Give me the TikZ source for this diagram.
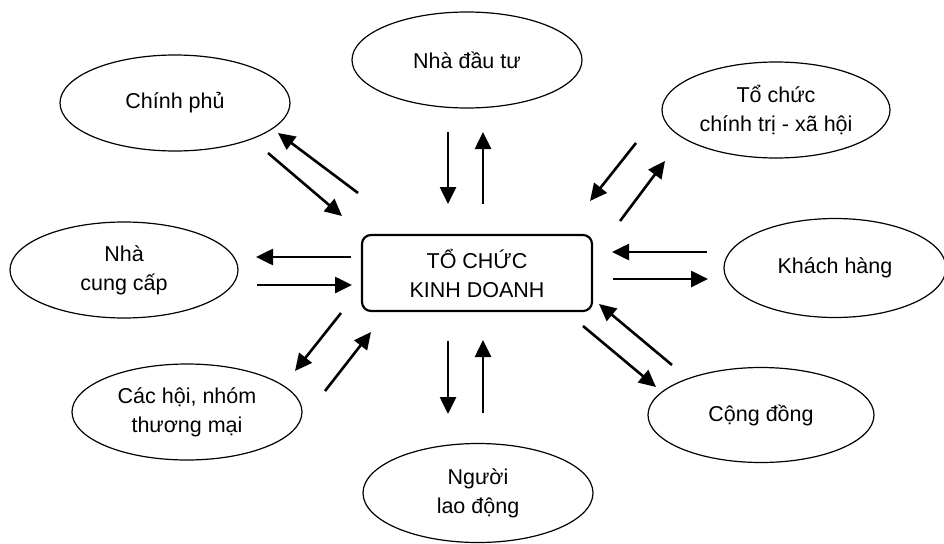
\documentclass[tikz,border=0pt]{standalone}
\usepackage{fontspec}
\setmainfont{Liberation Sans}
\usetikzlibrary{shapes.geometric,arrows.meta}
\begin{document}
\begin{tikzpicture}[x=1pt,y=-1pt,
  ell/.style={draw,line width=1.2pt,ellipse,inner sep=0pt,minimum width=230pt,minimum height=96pt,align=center,font=\fontsize{21.5}{29}\selectfont},
  hub/.style={draw,line width=2.2pt,rounded corners=9pt,minimum width=230pt,minimum height=76pt,align=center,font=\fontsize{21.5}{29}\selectfont},
  arr/.style={line width=2.6pt,-{Triangle[length=17pt,width=16pt]}}]
\useasboundingbox (0,0) rectangle (944,543);
\node[hub] (hub) at (477,273) {TỔ CHỨC\\KINH DOANH};
\node[ell] (gov) at (175,103) {Chính phủ};
\node[ell] (inv) at (467,60) {Nhà đầu tư};
\node[ell,minimum width=228pt] (pol) at (776,110) {Tổ chức\\chính trị - xã hội};
\node[ell,minimum width=228pt] (sup) at (124,270) {Nhà\\cung cấp};
\node[ell,minimum width=222pt,minimum height=99pt] (cus) at (835,268) {Khách hàng};
\node[ell] (ass) at (187,412) {Các hội, nhóm\\thương mại};
\node[ell,minimum width=226pt,minimum height=95pt] (com) at (761,415) {Cộng đồng};
\node[ell,minimum height=99pt] (lab) at (478,493) {Người\\lao động};
% arrow end points
\coordinate (g1a) at (358,193); \coordinate (g1b) at (278,133);
\coordinate (g2a) at (268,153); \coordinate (g2b) at (342,216);
\coordinate (i1a) at (448,132); \coordinate (i1b) at (448,204);
\coordinate (i2a) at (483,204); \coordinate (i2b) at (483,132);
\coordinate (p1a) at (636,143); \coordinate (p1b) at (590,201);
\coordinate (p2a) at (620,221); \coordinate (p2b) at (665,161);
\coordinate (s1a) at (351,257); \coordinate (s1b) at (256,257);
\coordinate (s2a) at (257,285); \coordinate (s2b) at (352,285);
\coordinate (c1a) at (707,252); \coordinate (c1b) at (612,252);
\coordinate (c2a) at (613,279); \coordinate (c2b) at (708,279);
\coordinate (a1a) at (341,313); \coordinate (a1b) at (295,371);
\coordinate (a2a) at (325,391); \coordinate (a2b) at (371,332);
\coordinate (l1a) at (448,341); \coordinate (l1b) at (448,414);
\coordinate (l2a) at (483,413); \coordinate (l2b) at (483,340);
\coordinate (m1a) at (672,365); \coordinate (m1b) at (599,304);
\coordinate (m2a) at (583,326); \coordinate (m2b) at (656,387);
\foreach \p in {g1,g2,i1,i2,p1,p2,s1,s2,c1,c2,a1,a2,l1,l2,m1,m2}
  \draw[arr] (\p a) -- (\p b);
\end{tikzpicture}
\end{document}
